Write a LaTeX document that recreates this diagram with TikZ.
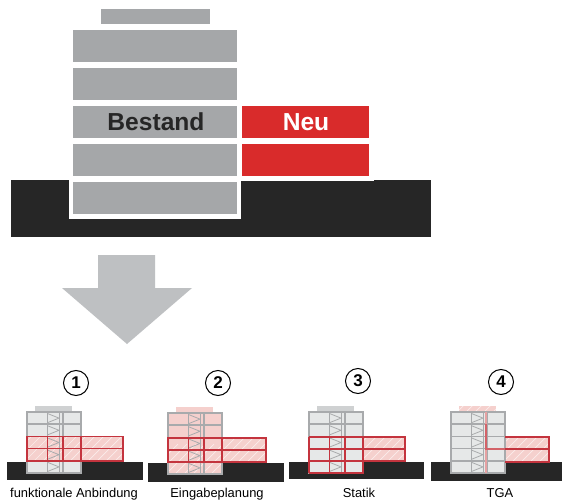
\documentclass[tikz,border=0pt]{standalone}
\usepackage{fontspec}
\setmainfont{Liberation Sans}
\definecolor{floorgrey}{HTML}{A5A7A9}
\definecolor{groundblack}{HTML}{262626}
\definecolor{neured}{HTML}{D92B2B}
\definecolor{arrowgrey}{HTML}{BEC0C2}
\definecolor{lightfloor}{HTML}{E6E8E8}
\definecolor{smallgrey}{HTML}{A8AAAC}
\definecolor{roofgrey}{HTML}{CFD1D2}
\definecolor{pinkfill}{HTML}{F5D0CD}
\definecolor{smallred}{HTML}{C4343E}
\tikzset{
  x=1pt,y=-1pt,
  bigfloor/.style={fill=floorgrey,draw=none},
  redfloor/.style={fill=neured,draw=none},
  groundbox/.style={fill=groundblack,draw=none},
  greyline/.style={draw=smallgrey,line width=1.5pt},
  redline/.style={draw=smallred,line width=1.4pt},
  numcircle/.style={circle,draw=black,line width=1pt,fill=white,minimum size=25pt,inner sep=0pt,font=\bfseries\fontsize{17}{17}\selectfont},
  caption/.style={font=\fontsize{12.9}{13}\selectfont,text=black,inner sep=0pt,anchor=base}
}
\newcommand{\hatchbox}[4]{%
  \begin{scope}
    \clip (#1,#2) rectangle (#3,#4);
    \fill[pinkfill] (#1,#2) rectangle (#3,#4);
    \foreach \k in {0,9,...,126}{
      \draw[white,opacity=.6,line width=.7pt] ({#1+\k-20},{#4}) -- ++(30,-30);
    }
  \end{scope}}
\newcommand{\smallground}[2]{\fill[groundbox] (-20,49.5) rectangle (#1,#2);}
\newcommand{\smallbase}[1]{%
  \fill[#1] (8,-6.5) rectangle (45,0);
  \fill[lightfloor] (0,0) rectangle (54,61);
}
\newcommand{\smallframe}{%
  \foreach \yy in {0,12.2,24.4,36.6,48.8}{
    \draw[smallgrey,line width=.8pt] (20.5,{\yy+1.5}) -- (32,{\yy+6.1}) -- (20.5,{\yy+10.7});
  }
  \draw[greyline] (0,0) rectangle (54,61);
  \foreach \yy in {12.2,24.4,36.6,48.8}{\draw[greyline] (0,\yy) -- (54,\yy);}
  \draw[greyline] (20.5,0) -- (20.5,61);
  \draw[greyline] (36,0) -- (36,61);
  \draw[smallgrey,line width=.7pt] (32,0) -- (32,61);
}
\begin{document}
\begin{tikzpicture}
\useasboundingbox (0,0) rectangle (562,500);
\fill[white] (0,0) rectangle (562,500);
% --- large section
\fill[groundbox] (11,180) rectangle (431,237);
\fill[white] (69,177) rectangle (241,219);
\fill[white] (241,177) rectangle (374,181);
\fill[bigfloor] (101,9) rectangle (210,24);
\fill[bigfloor] (73,30) rectangle (237,62);
\fill[bigfloor] (73,68) rectangle (237,100);
\fill[bigfloor] (73,106) rectangle (237,138);
\fill[bigfloor] (73,144) rectangle (237,176);
\fill[bigfloor] (73,182) rectangle (237,214);
\fill[redfloor] (242,106) rectangle (369,138);
\fill[redfloor] (242,144) rectangle (369,176);
\node[font=\bfseries\fontsize{24.6}{25}\selectfont,text=groundblack,inner sep=0pt] (bestand) at (156,122) {Bestand};
\node[font=\bfseries\fontsize{24.6}{25}\selectfont,text=white,inner sep=0pt] (neu) at (306,122) {Neu};
% --- arrow
\fill[arrowgrey] (98,255) -- (155,255) -- (155,288) -- (192,288) -- (127,344) -- (62,288) -- (98,288) -- cycle;
% --- variant 1
\begin{scope}[shift={(27,412)}]
  \smallground{116}{68}
  \smallbase{roofgrey}
  \hatchbox{0}{24.4}{96}{49}
  \smallframe
  \draw[redline] (0,24.4) rectangle (96,49);
  \draw[redline] (0,36.6) -- (96,36.6);
  \draw[redline] (54,24.4) -- (54,49);
  \draw[redline] (20.5,24.4) -- (20.5,49);
  \draw[redline] (36,24.4) -- (36,49);
\end{scope}
\node[numcircle] (n1) at (76,383) {1};
\node[caption] (c1) at (74,497) {funktionale Anbindung};
% --- variant 2
\begin{scope}[shift={(168,413)}]
  \smallground{116}{69}
  \smallbase{pinkfill}
  \hatchbox{0}{0}{54}{61}
  \hatchbox{54}{25}{98}{49}
  \smallframe
  \draw[redline] (0,25) rectangle (98,49);
  \draw[redline] (0,37) -- (98,37);
  \draw[redline] (54,25) -- (54,49);
  \draw[redline] (20.5,25) -- (20.5,49);
  \draw[redline] (36,25) -- (36,49);
\end{scope}
\node[numcircle] (n2) at (218,383) {2};
\node[caption] (c2) at (217,497) {Eingabeplanung};
% --- variant 3
\begin{scope}[shift={(309,412)}]
  \smallground{115}{67}
  \smallbase{roofgrey}
  \hatchbox{54}{25}{96}{49}
  \smallframe
  \draw[redline] (0,25) -- (96,25) -- (96,49) -- (0,49);
  \draw[redline] (0,37) -- (96,37);
  \draw[redline] (0,61) -- (54,61) -- (54,25);
  \draw[redline] (0,25) -- (0,61);
  \draw[redline] (20.5,25) -- (20.5,61);
  \draw[redline] (36,25) -- (36,61);
\end{scope}
\node[numcircle] (n3) at (358,381) {3};
\node[caption] (c3) at (359,497) {Statik};
% --- variant 4
\begin{scope}[shift={(451,412)}]
  \fill[groundbox] (-20,50) rectangle (111,69);
  \smallbase{pinkfill}
  \hatchbox{8}{-6.5}{45}{0}
  \hatchbox{54}{25}{98}{50}
  \smallframe
  \draw[pinkfill!70!smallred,line width=1.6pt] (35,0) -- (35,61);
  \draw[smallred!70!pinkfill,line width=1.2pt] (35,12) -- (35,37) -- (54,37);
  \draw[redline] (54,25) -- (98,25) -- (98,50) -- (54,50);
  \draw[redline] (54,37) -- (98,37);
\end{scope}
\node[numcircle] (n4) at (501,382) {4};
\node[caption] (c4) at (500,497) {TGA};
\end{tikzpicture}
\end{document}
